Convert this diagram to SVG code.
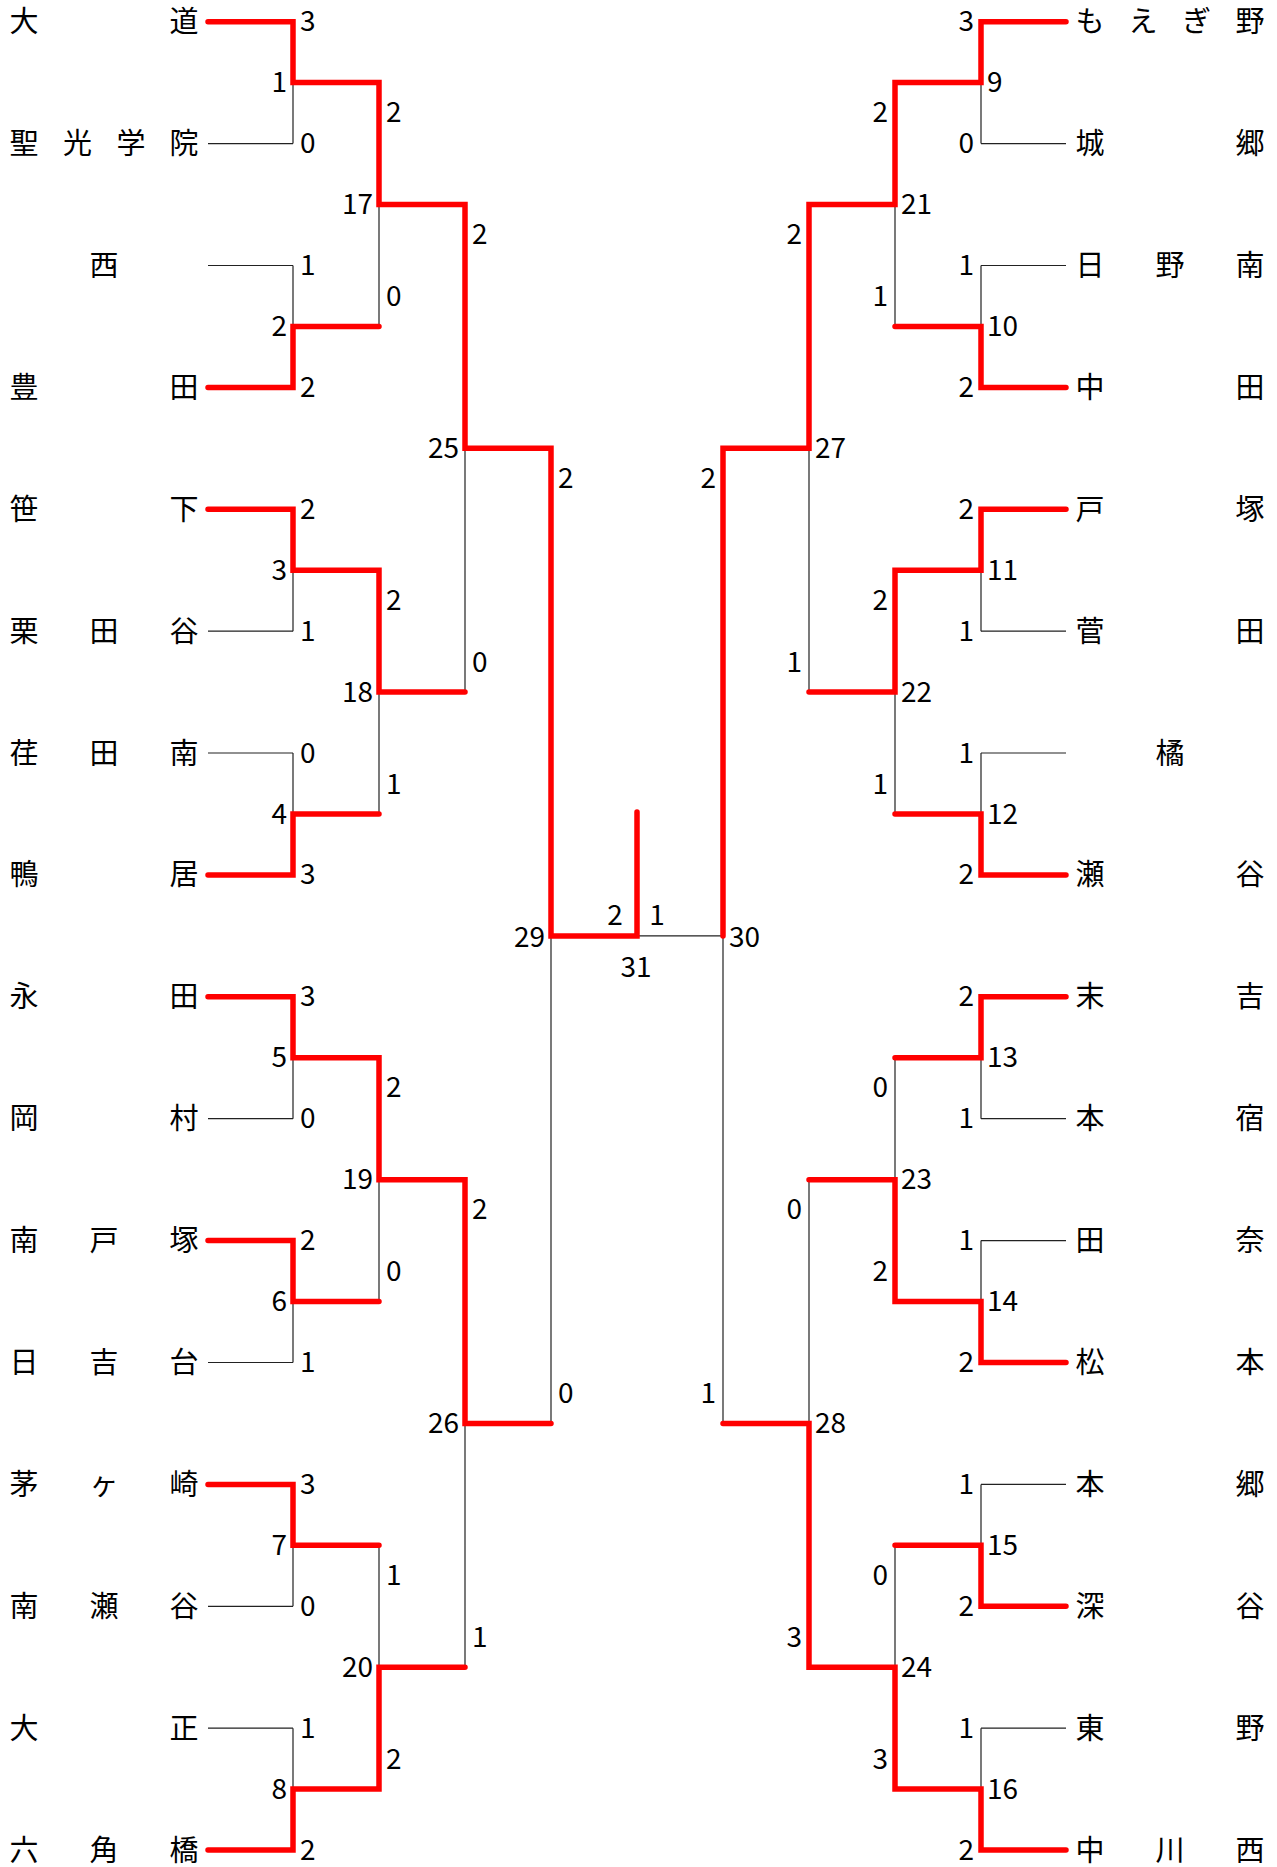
<svg xmlns="http://www.w3.org/2000/svg" width="1277" height="1867" viewBox="0 0 1277 1867">
<style>
text{font-family:"Noto Sans CJK JP","Noto Sans",sans-serif;fill:#000;dominant-baseline:central}
.t{font-size:29px;text-anchor:middle}
.n{font-size:28px}
.s{text-anchor:start}
.e{text-anchor:end}
.m{text-anchor:middle}
.thin{fill:none;stroke:#222;stroke-width:1.2}
.red{fill:none;stroke:#ff0000;stroke-width:5.5;stroke-linecap:round;stroke-linejoin:miter}
</style>
<rect width="1277" height="1867" fill="#fff"/>
<g id="connectors">
<path class="thin" d="M208 21.7H293M208 143.6H293M208 265.5H293M208 387.4H293M208 509.3H293M208 631.2H293M208 753H293M208 874.9H293M208 996.8H293M208 1118.7H293M208 1240.6H293M208 1362.5H293M208 1484.4H293M208 1606.3H293M208 1728.2H293M208 1850.1H293"/>
<path class="thin" d="M1066 21.7H981M1066 143.6H981M1066 265.5H981M1066 387.4H981M1066 509.3H981M1066 631.2H981M1066 753H981M1066 874.9H981M1066 996.8H981M1066 1118.7H981M1066 1240.6H981M1066 1362.5H981M1066 1484.4H981M1066 1606.3H981M1066 1728.2H981M1066 1850.1H981"/>
<path class="thin" d="M293 21.7V143.6M293 265.5V387.4M293 509.3V631.2M293 753V874.9M293 996.8V1118.7M293 1240.6V1362.5M293 1484.4V1606.3M293 1728.2V1850.1M379 82.6V326.4M379 570.2V814M379 1057.8V1301.6M379 1545.3V1789.1M465 204.5V692.1M465 1179.7V1667.2M551 448.3V1423.5"/>
<path class="thin" d="M981 21.7V143.6M981 265.5V387.4M981 509.3V631.2M981 753V874.9M981 996.8V1118.7M981 1240.6V1362.5M981 1484.4V1606.3M981 1728.2V1850.1M895 82.6V326.4M895 570.2V814M895 1057.8V1301.6M895 1545.3V1789.1M809 204.5V692.1M809 1179.7V1667.2M723 448.3V1423.5"/>
<path class="thin" d="M551 935.9H723"/>
<path class="red" d="M208 21.7H293V82.6H379V204.5H465V448.3H551V935.9H637V812"/>
<path class="red" d="M208 387.4H293V326.4H379"/>
<path class="red" d="M208 509.3H293V570.2H379V692.1H465"/>
<path class="red" d="M208 874.9H293V814H379"/>
<path class="red" d="M208 996.8H293V1057.8H379V1179.7H465V1423.5H551"/>
<path class="red" d="M208 1240.6H293V1301.6H379"/>
<path class="red" d="M208 1484.4H293V1545.3H379"/>
<path class="red" d="M208 1850.1H293V1789.1H379V1667.2H465"/>
<path class="red" d="M1066 21.7H981V82.6H895V204.5H809V448.3H723V935.9"/>
<path class="red" d="M1066 387.4H981V326.4H895"/>
<path class="red" d="M1066 509.3H981V570.2H895V692.1H809"/>
<path class="red" d="M1066 874.9H981V814H895"/>
<path class="red" d="M1066 996.8H981V1057.8H895"/>
<path class="red" d="M1066 1362.5H981V1301.6H895V1179.7H809"/>
<path class="red" d="M1066 1606.3H981V1545.3H895"/>
<path class="red" d="M1066 1850.1H981V1789.1H895V1667.2H809V1423.5H723"/>
</g>
<g id="labels" transform="translate(0,-2.5)">
<g id="team-L0"><text class="t" x="24 184" y="21.7">大道</text></g>
<g id="team-L1"><text class="t" x="24 77.5 131 184" y="143.6">聖光学院</text></g>
<g id="team-L2"><text class="t" x="104" y="265.5">西</text></g>
<g id="team-L3"><text class="t" x="24 184" y="387.4">豊田</text></g>
<g id="team-L4"><text class="t" x="24 184" y="509.3">笹下</text></g>
<g id="team-L5"><text class="t" x="24 104 184" y="631.2">栗田谷</text></g>
<g id="team-L6"><text class="t" x="24 104 184" y="753">荏田南</text></g>
<g id="team-L7"><text class="t" x="24 184" y="874.9">鴨居</text></g>
<g id="team-L8"><text class="t" x="24 184" y="996.8">永田</text></g>
<g id="team-L9"><text class="t" x="24 184" y="1118.7">岡村</text></g>
<g id="team-L10"><text class="t" x="24 104 184" y="1240.6">南戸塚</text></g>
<g id="team-L11"><text class="t" x="24 104 184" y="1362.5">日吉台</text></g>
<g id="team-L12"><text class="t" x="24 104 184" y="1484.4">茅ヶ崎</text></g>
<g id="team-L13"><text class="t" x="24 104 184" y="1606.3">南瀬谷</text></g>
<g id="team-L14"><text class="t" x="24 184" y="1728.2">大正</text></g>
<g id="team-L15"><text class="t" x="24 104 184" y="1850.1">六角橋</text></g>
<g id="team-R0"><text class="t" x="1090 1143 1196.5 1250" y="21.7">もえぎ野</text></g>
<g id="team-R1"><text class="t" x="1090 1250" y="143.6">城郷</text></g>
<g id="team-R2"><text class="t" x="1090 1170 1250" y="265.5">日野南</text></g>
<g id="team-R3"><text class="t" x="1090 1250" y="387.4">中田</text></g>
<g id="team-R4"><text class="t" x="1090 1250" y="509.3">戸塚</text></g>
<g id="team-R5"><text class="t" x="1090 1250" y="631.2">菅田</text></g>
<g id="team-R6"><text class="t" x="1170" y="753">橘</text></g>
<g id="team-R7"><text class="t" x="1090 1250" y="874.9">瀬谷</text></g>
<g id="team-R8"><text class="t" x="1090 1250" y="996.8">末吉</text></g>
<g id="team-R9"><text class="t" x="1090 1250" y="1118.7">本宿</text></g>
<g id="team-R10"><text class="t" x="1090 1250" y="1240.6">田奈</text></g>
<g id="team-R11"><text class="t" x="1090 1250" y="1362.5">松本</text></g>
<g id="team-R12"><text class="t" x="1090 1250" y="1484.4">本郷</text></g>
<g id="team-R13"><text class="t" x="1090 1250" y="1606.3">深谷</text></g>
<g id="team-R14"><text class="t" x="1090 1250" y="1728.2">東野</text></g>
<g id="team-R15"><text class="t" x="1090 1170 1250" y="1850.1">中川西</text></g>
<g id="match-1"><text class="n e" x="287" y="82.6">1</text><text class="n s" x="300" y="21.7">3</text><text class="n s" x="300" y="143.6">0</text></g>
<g id="match-2"><text class="n e" x="287" y="326.4">2</text><text class="n s" x="300" y="265.5">1</text><text class="n s" x="300" y="387.4">2</text></g>
<g id="match-3"><text class="n e" x="287" y="570.2">3</text><text class="n s" x="300" y="509.3">2</text><text class="n s" x="300" y="631.2">1</text></g>
<g id="match-4"><text class="n e" x="287" y="814">4</text><text class="n s" x="300" y="753">0</text><text class="n s" x="300" y="874.9">3</text></g>
<g id="match-5"><text class="n e" x="287" y="1057.8">5</text><text class="n s" x="300" y="996.8">3</text><text class="n s" x="300" y="1118.7">0</text></g>
<g id="match-6"><text class="n e" x="287" y="1301.6">6</text><text class="n s" x="300" y="1240.6">2</text><text class="n s" x="300" y="1362.5">1</text></g>
<g id="match-7"><text class="n e" x="287" y="1545.3">7</text><text class="n s" x="300" y="1484.4">3</text><text class="n s" x="300" y="1606.3">0</text></g>
<g id="match-8"><text class="n e" x="287" y="1789.1">8</text><text class="n s" x="300" y="1728.2">1</text><text class="n s" x="300" y="1850.1">2</text></g>
<g id="match-17"><text class="n e" x="373" y="204.5">17</text><text class="n s" x="386" y="112.6">2</text><text class="n s" x="386" y="296.4">0</text></g>
<g id="match-18"><text class="n e" x="373" y="692.1">18</text><text class="n s" x="386" y="600.2">2</text><text class="n s" x="386" y="784">1</text></g>
<g id="match-19"><text class="n e" x="373" y="1179.7">19</text><text class="n s" x="386" y="1087.8">2</text><text class="n s" x="386" y="1271.6">0</text></g>
<g id="match-20"><text class="n e" x="373" y="1667.2">20</text><text class="n s" x="386" y="1575.3">1</text><text class="n s" x="386" y="1759.1">2</text></g>
<g id="match-25"><text class="n e" x="459" y="448.3">25</text><text class="n s" x="472" y="234.5">2</text><text class="n s" x="472" y="662.1">0</text></g>
<g id="match-26"><text class="n e" x="459" y="1423.5">26</text><text class="n s" x="472" y="1209.7">2</text><text class="n s" x="472" y="1637.2">1</text></g>
<g id="match-29"><text class="n e" x="545" y="937">29</text><text class="n s" x="558" y="478.3">2</text><text class="n s" x="558" y="1393.5">0</text></g>
<g id="match-9"><text class="n s" x="987" y="82.6">9</text><text class="n e" x="974" y="21.7">3</text><text class="n e" x="974" y="143.6">0</text></g>
<g id="match-10"><text class="n s" x="987" y="326.4">10</text><text class="n e" x="974" y="265.5">1</text><text class="n e" x="974" y="387.4">2</text></g>
<g id="match-11"><text class="n s" x="987" y="570.2">11</text><text class="n e" x="974" y="509.3">2</text><text class="n e" x="974" y="631.2">1</text></g>
<g id="match-12"><text class="n s" x="987" y="814">12</text><text class="n e" x="974" y="753">1</text><text class="n e" x="974" y="874.9">2</text></g>
<g id="match-13"><text class="n s" x="987" y="1057.8">13</text><text class="n e" x="974" y="996.8">2</text><text class="n e" x="974" y="1118.7">1</text></g>
<g id="match-14"><text class="n s" x="987" y="1301.6">14</text><text class="n e" x="974" y="1240.6">1</text><text class="n e" x="974" y="1362.5">2</text></g>
<g id="match-15"><text class="n s" x="987" y="1545.3">15</text><text class="n e" x="974" y="1484.4">1</text><text class="n e" x="974" y="1606.3">2</text></g>
<g id="match-16"><text class="n s" x="987" y="1789.1">16</text><text class="n e" x="974" y="1728.2">1</text><text class="n e" x="974" y="1850.1">2</text></g>
<g id="match-21"><text class="n s" x="901" y="204.5">21</text><text class="n e" x="888" y="112.6">2</text><text class="n e" x="888" y="296.4">1</text></g>
<g id="match-22"><text class="n s" x="901" y="692.1">22</text><text class="n e" x="888" y="600.2">2</text><text class="n e" x="888" y="784">1</text></g>
<g id="match-23"><text class="n s" x="901" y="1179.7">23</text><text class="n e" x="888" y="1087.8">0</text><text class="n e" x="888" y="1271.6">2</text></g>
<g id="match-24"><text class="n s" x="901" y="1667.2">24</text><text class="n e" x="888" y="1575.3">0</text><text class="n e" x="888" y="1759.1">3</text></g>
<g id="match-27"><text class="n s" x="815" y="448.3">27</text><text class="n e" x="802" y="234.5">2</text><text class="n e" x="802" y="662.1">1</text></g>
<g id="match-28"><text class="n s" x="815" y="1423.5">28</text><text class="n e" x="802" y="1209.7">0</text><text class="n e" x="802" y="1637.2">3</text></g>
<g id="match-30"><text class="n s" x="729" y="937">30</text><text class="n e" x="716" y="478.3">2</text><text class="n e" x="716" y="1393.5">1</text></g>
<g id="match-31"><text class="n m" x="636" y="967">31</text><text class="n m" x="615" y="915.9">2</text><text class="n m" x="657" y="915.9">1</text></g>
</g>
</svg>
